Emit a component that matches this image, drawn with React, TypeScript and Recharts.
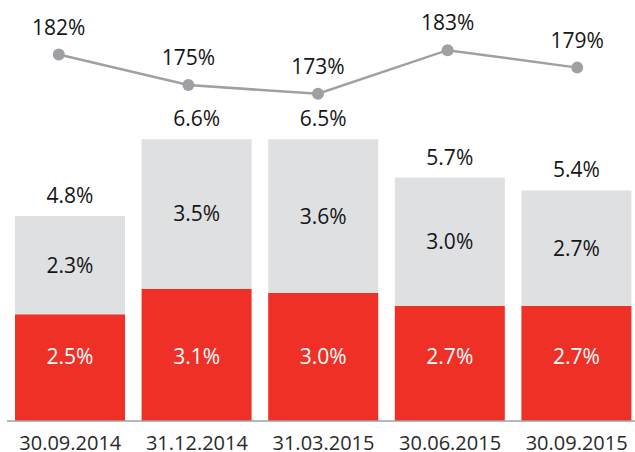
import React from 'react';
import { ComposedChart, Bar, Line, XAxis, YAxis, LabelList } from 'recharts';

const periods = ['30.09.2014', '31.12.2014', '31.03.2015', '30.06.2015', '30.09.2015'];
const redValues = [2.5, 3.1, 3.0, 2.7, 2.7];
const grayValues = [2.3, 3.5, 3.6, 3.0, 2.7];
const totalValues = [4.8, 6.6, 6.5, 5.7, 5.4];
const ratioValues = [182, 175, 173, 183, 179];

const RED = '#ee3026';
const GRAY = '#dfe0e2';
const LINE = '#a0a0a4';
const TEXT = '#151515';
const FONT = '"Open Sans", sans-serif';

const data = periods.map((p, i) => ({
  period: p,
  red: redValues[i],
  gray: grayValues[i],
  total: totalValues[i],
  ratio: ratioValues[i],
}));

const pct1 = (v: any) => `${Number(v).toFixed(1)}%`;
const pct0 = (v: any) => `${v}%`;

export default function App() {
  return (
    <div style={{ position: 'absolute', left: 0, top: 0, width: 635, height: 452, overflow: 'hidden', background: '#fff', fontFamily: FONT }}>
      <ComposedChart width={640} height={452} data={data} margin={{ top: 0, right: 0, bottom: 0, left: 7 }}>
        <XAxis
          xAxisId="bars"
          dataKey="period"
          height={31}
          tickLine={false}
          tickMargin={9}
          axisLine={{ stroke: LINE, strokeWidth: 1.5 }}
          tick={{ fill: '#2a2a2a', fontSize: 20, fontFamily: FONT }}
          interval={0}
        />
        <XAxis xAxisId="line" dataKey="period" hide padding={{ left: -13, right: -2 }} />
        <YAxis yAxisId="bars" hide domain={[0, 9.86]} />
        <YAxis yAxisId="line" hide domain={[98, 194.5]} />
        <Bar xAxisId="bars" yAxisId="bars" dataKey="red" stackId="a" fill={RED} barSize={110} isAnimationActive={false}>
          <LabelList dataKey="red" position="insideBottom" offset={57} formatter={pct1} fill="#fff" fontSize={21} fontFamily={FONT} />
        </Bar>
        <Bar xAxisId="bars" yAxisId="bars" dataKey="gray" stackId="a" fill={GRAY} barSize={110} isAnimationActive={false}>
          <LabelList dataKey="gray" position="center" formatter={pct1} fill={TEXT} fontSize={21} fontFamily={FONT} />
          <LabelList dataKey="total" position="top" offset={13} formatter={pct1} fill={TEXT} fontSize={21} fontFamily={FONT} />
        </Bar>
        <Line
          xAxisId="line"
          yAxisId="line"
          dataKey="ratio"
          stroke={LINE}
          strokeWidth={2.5}
          dot={{ r: 6, fill: LINE, stroke: LINE, strokeWidth: 0 }}
          isAnimationActive={false}
        >
          <LabelList dataKey="ratio" position="top" offset={20} formatter={pct0} fill={TEXT} fontSize={21} fontFamily={FONT} />
        </Line>
      </ComposedChart>
    </div>
  );
}
